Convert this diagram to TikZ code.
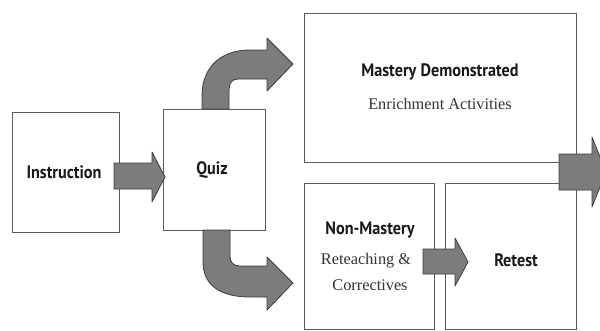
\documentclass[tikz,border=0pt]{standalone}
\usepackage{fontspec}
\newfontfamily\boldsans[FakeStretch=0.9]{PT Sans}
\newfontfamily\serifsub{Liberation Serif}
\definecolor{boxline}{HTML}{5A5A5A}
\definecolor{arrowfill}{HTML}{7C7C7C}
\definecolor{arrowline}{HTML}{3C3C3C}
\definecolor{subtext}{HTML}{333333}
\tikzset{
  panel/.style={draw=boxline, line width=1.1pt, fill=white, inner sep=0pt, anchor=north west},
  fatarrow/.style={fill=arrowfill, draw=arrowline, line width=0.8pt, line join=round},
  title/.style={font=\boldsans\bfseries\fontsize{18}{20}\selectfont, text=black!90, inner sep=0pt},
  sub/.style={font=\serifsub\fontsize{16.3}{18}\selectfont, text=subtext, inner sep=0pt},
}
\begin{document}
\begin{tikzpicture}[x=1pt,y=-1pt]
\useasboundingbox[fill=white] (0,0) rectangle (600,330);
% boxes
\node[panel, minimum width=107pt, minimum height=120pt] (instr) at (12,112) {};
\node[panel, minimum width=102pt, minimum height=121pt] (quiz) at (163,109) {};
\node[panel, minimum width=272pt, minimum height=149pt] (mast) at (304,13) {};
\node[panel, minimum width=130pt, minimum height=146pt] (nonm) at (304,183) {};
\node[panel, minimum width=131pt, minimum height=146pt] (retest) at (445,183) {};
% texts
\node[title] (tinstr) at (64,172) {Instruction};
\node[title] (tquiz) at (212,170) {Quiz};
\node[title] (tmast) at (440,72) {Mastery Demonstrated};
\node[sub] (tenr) at (440,104) {Enrichment Activities};
\node[title] (tnonm) at (370,230) {Non-Mastery};
\node[sub] (treteach) at (366,261) {Reteaching \&};
\node[sub] (tcorr) at (370,285) {Correctives};
\node[title] (tretest) at (516,260) {Retest};
% straight arrows
\draw[fatarrow] (114,163) -- (152,163) -- (152,152) -- (165,177) -- (152,202) -- (152,189) -- (114,189) -- cycle;
\draw[fatarrow] (423,249) -- (455,249) -- (455,238) -- (468,262) -- (455,286) -- (455,274) -- (423,274) -- cycle;
\draw[fatarrow] (559,154) -- (592,154) -- (592,137) -- (606,172) -- (592,207) -- (592,190) -- (559,190) -- cycle;
% curved arrow up
\draw[fatarrow] (202,109) -- (202,96) .. controls (202,66) and (222,50) .. (250,50) -- (267,50) -- (267,38) -- (293,64) -- (267,91) -- (267,79) -- (238,79) .. controls (232,79) and (229,83) .. (229,90) -- (229,109) -- cycle;
% curved arrow down
\draw[fatarrow] (203,230) -- (203,262) .. controls (203,285) and (220,297) .. (250,297) -- (267,297) -- (267,310) -- (293,283) -- (267,257) -- (267,266) -- (240,266) .. controls (233,266) and (230,262) .. (230,256) -- (230,230) -- cycle;
\end{tikzpicture}
\end{document}
